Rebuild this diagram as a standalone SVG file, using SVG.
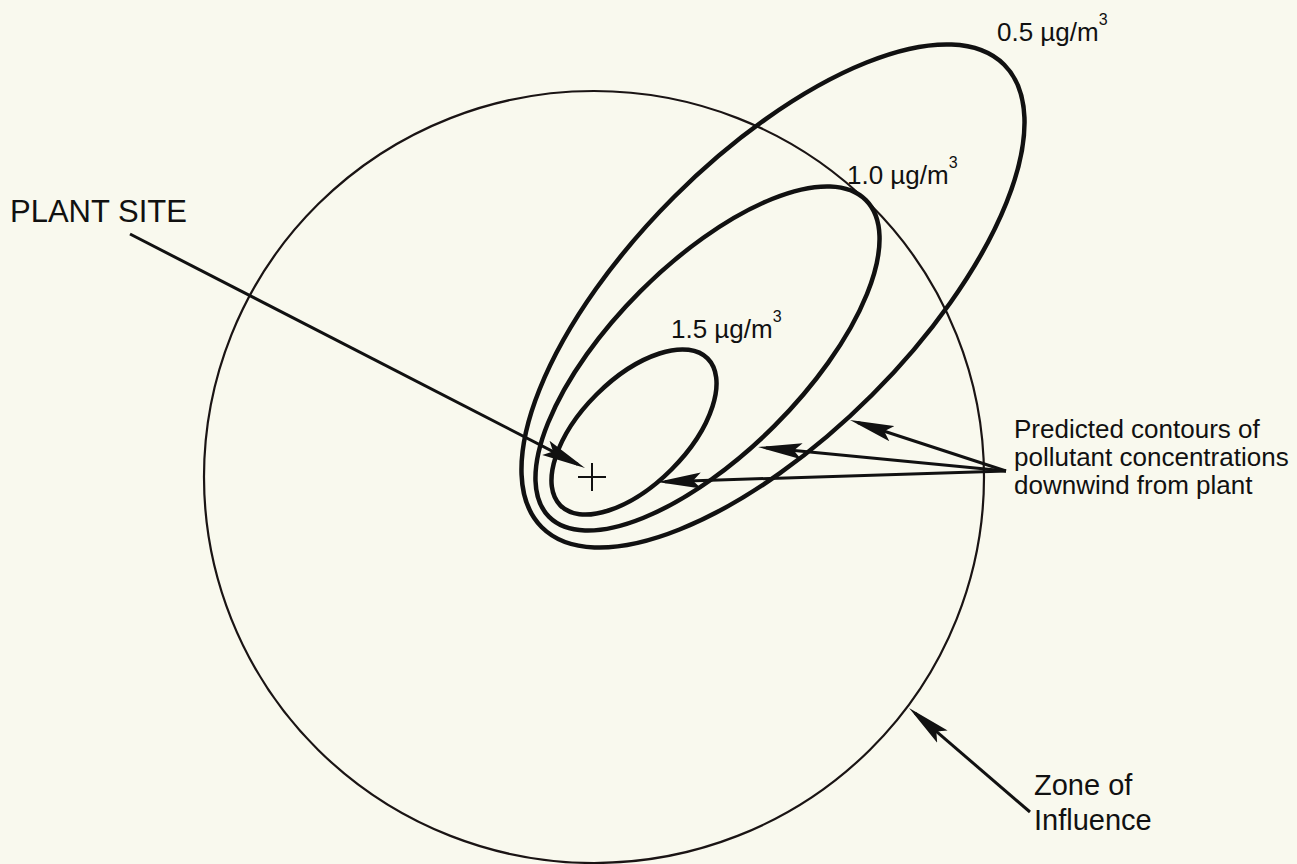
<svg xmlns="http://www.w3.org/2000/svg" width="1297" height="864" viewBox="0 0 1297 864">
<defs>
<style>
.zone{fill:none;stroke:#1a1414;stroke-width:2.2}
.contour{fill:none;stroke:#111;stroke-width:4.5}
.lead{fill:none;stroke:#111;stroke-width:3}
.lbl{font-family:"Liberation Sans",Arial,Helvetica,sans-serif;fill:#111}
.sup{font-size:16px}
</style>
<marker id="ah" markerUnits="userSpaceOnUse" viewBox="0 0 44 18" refX="36" refY="9" markerWidth="44" markerHeight="18" orient="auto">
<path d="M0,1 L44,9 L0,17 L8,9 z" fill="#111"/>
</marker>
</defs>
<rect x="0" y="0" width="1297" height="864" fill="#f9f9ee"/>

<g id="zone-of-influence">
<ellipse class="zone" cx="594" cy="477" rx="390" ry="386"/>
<text class="lbl" x="1034" y="795" font-size="29">Zone of</text>
<text class="lbl" x="1034" y="830" font-size="29">Influence</text>
</g>

<g id="contour-05">
<ellipse class="contour" cx="773" cy="296" rx="327" ry="140" transform="rotate(-45 773 296)"/>
<text class="lbl" x="997" y="41" font-size="26">0.5 µg/m<tspan class="sup" dy="-16">3</tspan></text>
</g>

<g id="contour-10">
<ellipse class="contour" cx="707.5" cy="358.5" rx="224" ry="95" transform="rotate(-45 707.5 358.5)"/>
<text class="lbl" x="847" y="184" font-size="26">1.0 µg/m<tspan class="sup" dy="-16">3</tspan></text>
</g>

<g id="contour-15">
<ellipse class="contour" cx="634" cy="432" rx="104" ry="53" transform="rotate(-45 634 432)"/>
<text class="lbl" x="671" y="338" font-size="26">1.5 µg/m<tspan class="sup" dy="-16">3</tspan></text>
</g>

<g id="plant-site">
<path d="M578,477 H606 M592,463 V491" stroke="#111" stroke-width="2" fill="none"/>
<text class="lbl" x="10" y="222" font-size="31">PLANT SITE</text>
</g>

<g id="predicted-label">
<text class="lbl" x="1014" y="438" font-size="26">Predicted contours of</text>
<text class="lbl" x="1014" y="466" font-size="26">pollutant concentrations</text>
<text class="lbl" x="1014" y="494" font-size="26">downwind from plant</text>
</g>

<g id="connectors">
<line class="lead" x1="130" y1="234" x2="577.9" y2="464.3" marker-end="url(#ah)"/>
<line class="lead" x1="1006" y1="471" x2="857.6" y2="422.5" marker-end="url(#ah)"/>
<line class="lead" x1="1006" y1="471" x2="766" y2="447.8" marker-end="url(#ah)"/>
<line class="lead" x1="1006" y1="471" x2="665" y2="481.7" marker-end="url(#ah)"/>
<line class="lead" x1="1030" y1="812" x2="915.1" y2="713.2" marker-end="url(#ah)"/>
</g>
</svg>
